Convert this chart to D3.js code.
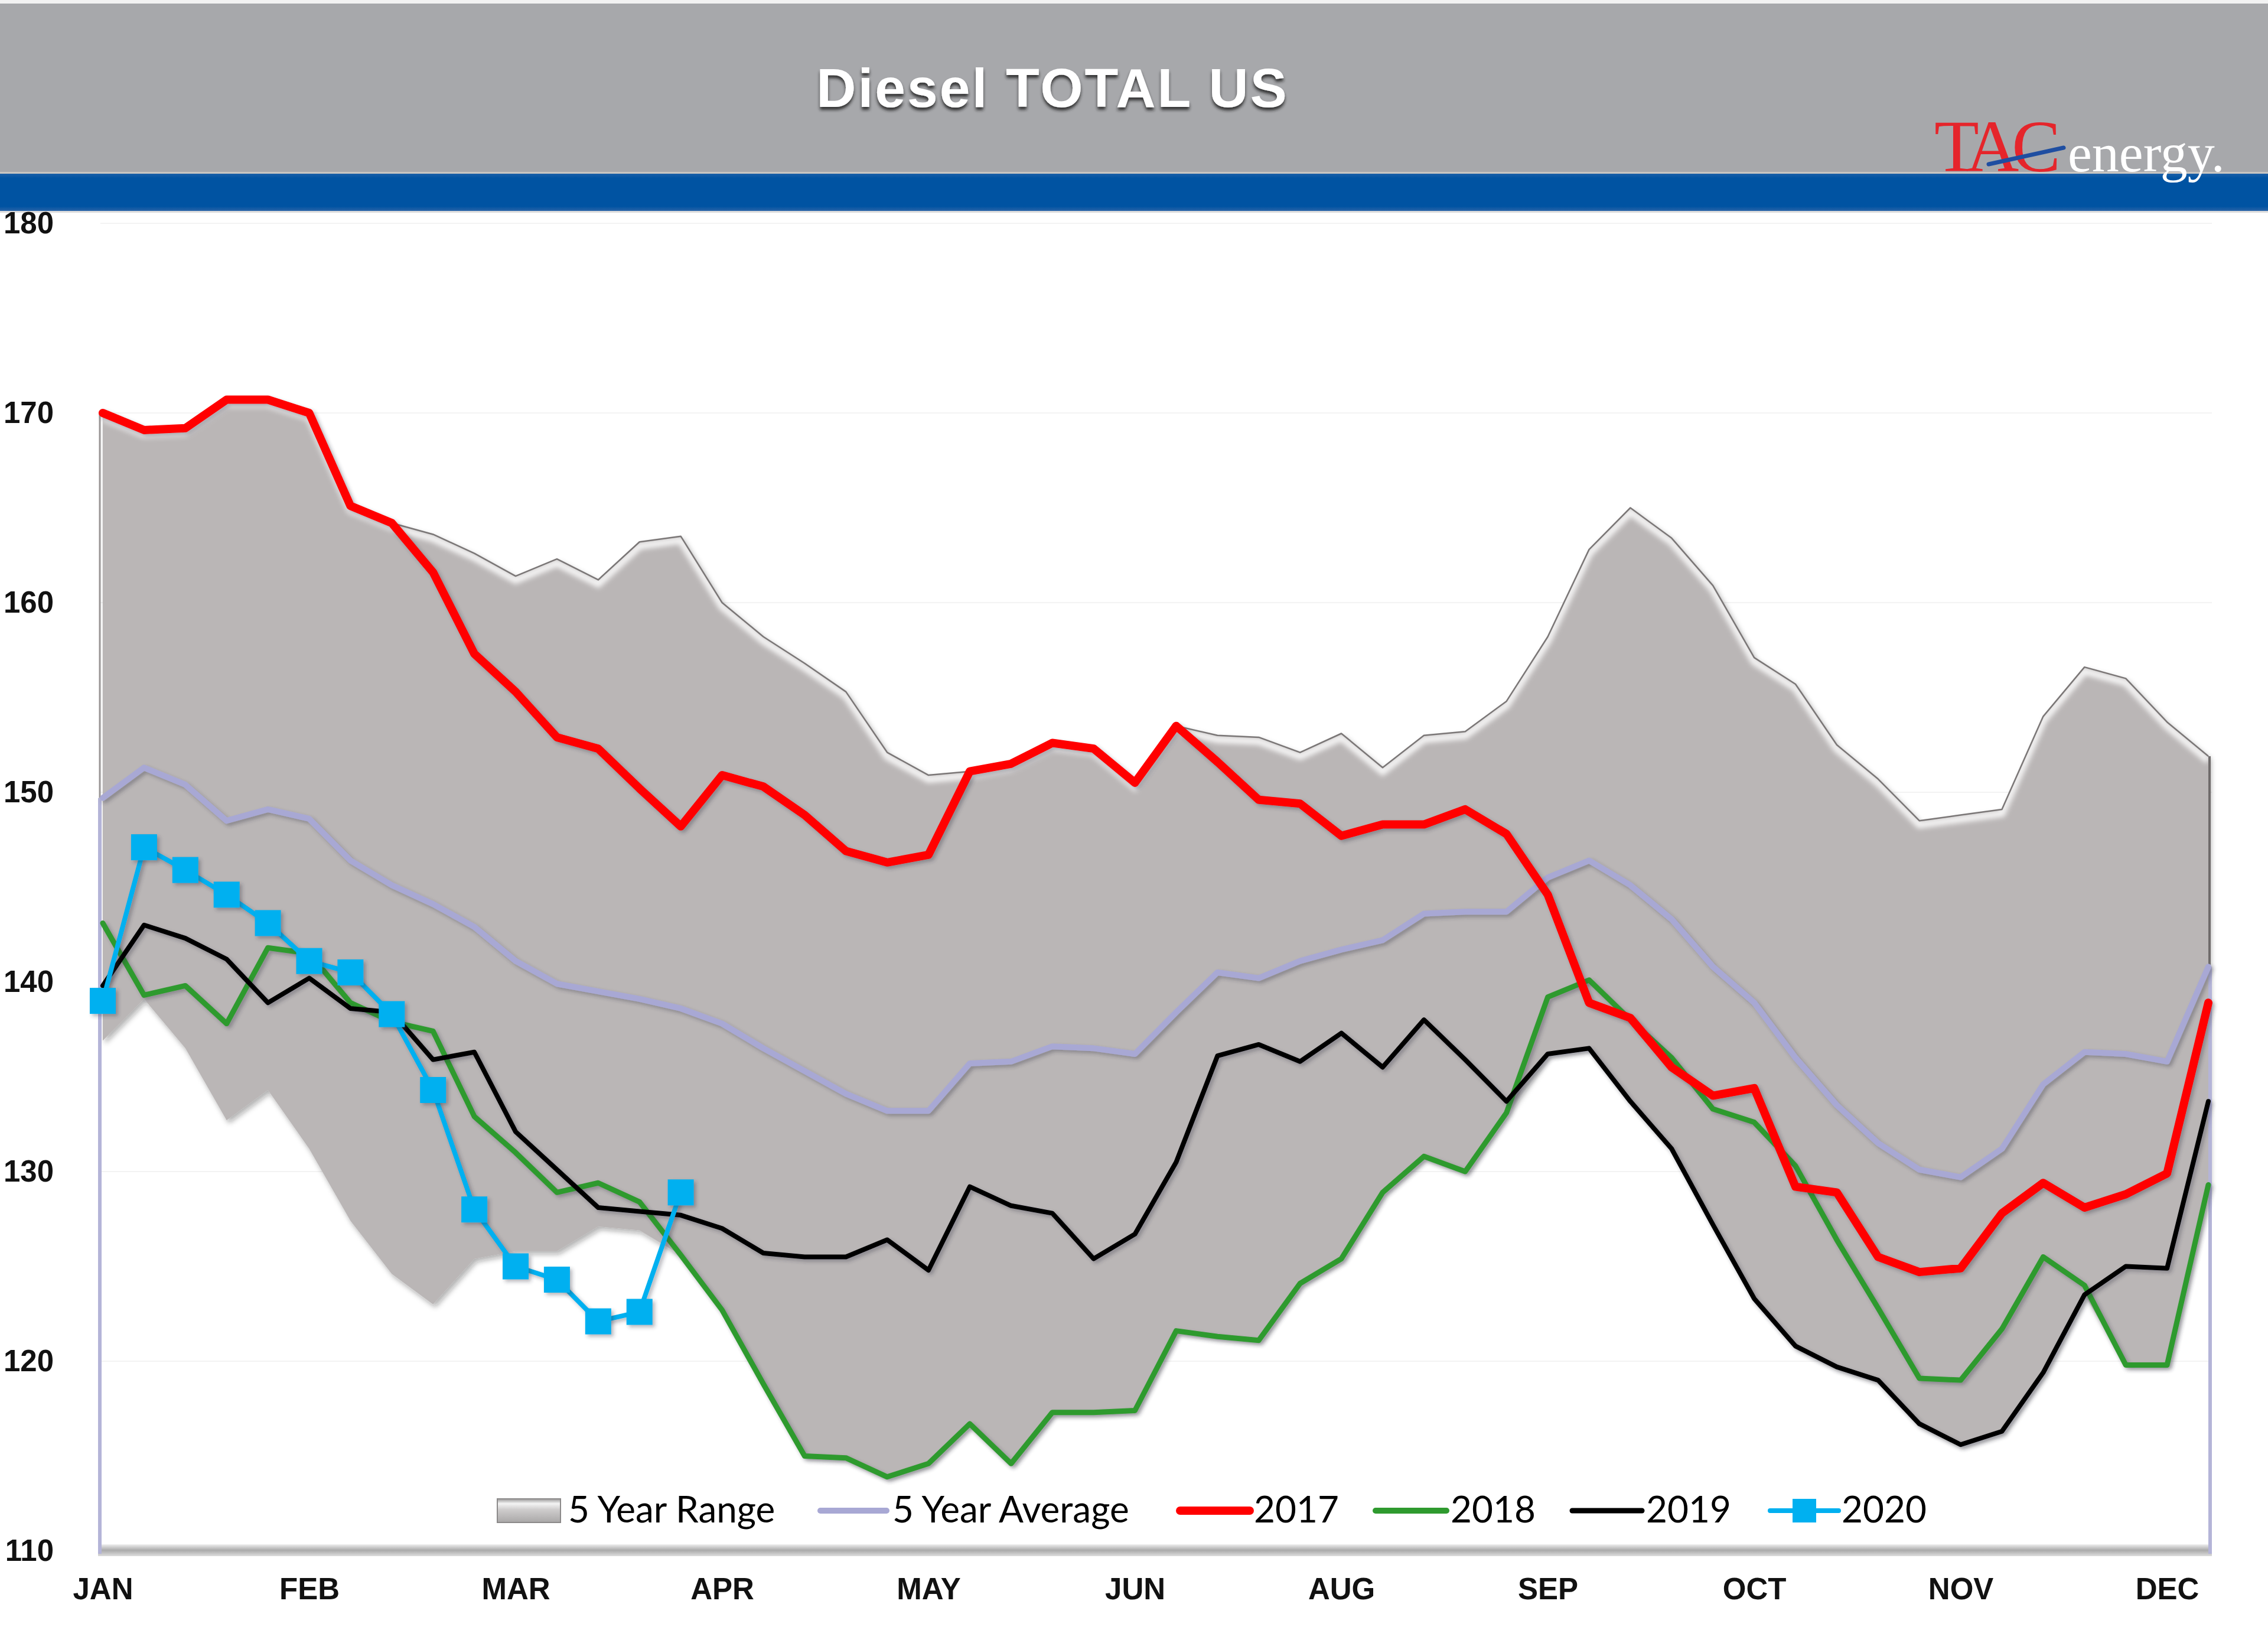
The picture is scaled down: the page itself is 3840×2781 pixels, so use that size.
<!DOCTYPE html>
<html>
<head>
<meta charset="utf-8">
<script src="https://cdn.jsdelivr.net/npm/d3@7"></script>
<style>
html,body{margin:0;padding:0;background:#fff;}
svg{display:block;}
</style>
</head>
<body>
<svg id="chart" width="3840" height="2781"></svg>
<script>
// ---------------- DATA ----------------
const weekIndex = d3.range(52);
const monthTickIdx = [0,5,10,15,20,25,30,35,40,45,50];
const monthLabels = ["JAN","FEB","MAR","APR","MAY","JUN","AUG","SEP","OCT","NOV","DEC"];
const yTicks = [110,120,130,140,150,160,170,180];
const seriesNames = ["5 Year Range","5 Year Average","2017","2018","2019","2020"];

const rangeHigh = [170.0,169.1,169.2,170.7,170.7,170.0,165.1,164.2,163.6,162.6,
  161.4,162.3,161.2,163.2,163.5,160.0,158.2,156.8,155.3,152.1,
  150.9,151.1,151.5,152.6,152.3,150.5,153.5,153.0,152.9,152.1,
  153.1,151.3,153.0,153.2,154.8,158.2,162.8,165.0,163.4,160.9,
  157.1,155.7,152.5,150.7,148.5,148.8,149.1,154.0,156.6,156.0,
  153.7,151.9];
const rangeLow = [136.9,139.1,136.5,132.7,134.3,131.2,127.4,124.6,123.0,125.4,
  125.8,125.8,127.1,126.9,125.6,122.7,118.8,115.0,114.9,113.9,
  114.6,116.7,114.6,117.3,117.3,117.4,121.6,121.3,121.1,124.1,
  125.4,128.9,130.8,130.0,133.1,136.2,136.5,133.7,131.2,127.2,
  123.3,120.8,119.7,119.0,116.7,115.6,116.3,119.4,123.5,119.8,
  119.8,129.3];
const avg5 = [149.7,151.3,150.4,148.5,149.1,148.6,146.4,145.1,144.1,142.9,
  141.1,139.9,139.5,139.1,138.6,137.8,136.5,135.3,134.1,133.2,
  133.2,135.7,135.8,136.6,136.5,136.2,138.4,140.5,140.2,141.1,
  141.7,142.2,143.6,143.7,143.7,145.5,146.4,145.1,143.3,140.8,
  138.9,136.0,133.5,131.5,130.1,129.7,131.2,134.6,136.3,136.2,
  135.8,140.8];
const y2017 = [170.0,169.1,169.2,170.7,170.7,170.0,165.1,164.2,161.6,157.3,
  155.3,152.9,152.3,150.2,148.2,150.9,150.3,148.8,146.9,146.3,
  146.7,151.1,151.5,152.6,152.3,150.5,153.5,151.6,149.6,149.4,
  147.7,148.3,148.3,149.1,147.8,144.6,138.9,138.1,135.5,134.0,
  134.4,129.2,128.9,125.5,124.7,124.9,127.8,129.4,128.1,128.8,
  129.9,138.9];
const y2018 = [143.1,139.3,139.8,137.8,141.8,141.5,138.9,137.9,137.4,132.9,
  131.0,128.9,129.4,128.4,125.6,122.7,118.8,115.0,114.9,113.9,
  114.6,116.7,114.6,117.3,117.3,117.4,121.6,121.3,121.1,124.1,
  125.4,128.9,130.8,130.0,133.1,139.2,140.1,138.0,136.0,133.3,
  132.6,130.3,126.4,122.8,119.1,119.0,121.7,125.5,124.0,119.8,
  119.8,129.3];
const y2019 = [139.8,143.0,142.3,141.2,138.9,140.2,138.6,138.4,135.9,136.3,
  132.1,130.1,128.1,127.9,127.7,127.0,125.7,125.5,125.5,126.4,
  124.8,129.2,128.2,127.8,125.4,126.7,130.5,136.1,136.7,135.8,
  137.3,135.5,138.0,135.9,133.7,136.2,136.5,133.7,131.2,127.2,
  123.3,120.8,119.7,119.0,116.7,115.6,116.3,119.4,123.5,125.0,
  124.9,133.7];
const y2020 = [139.0,147.1,145.9,144.6,143.1,141.1,140.5,138.3,134.3,128.0,
  125.0,124.3,122.1,122.6,128.9];

// ---------------- SETUP ----------------
const svg = d3.select("#chart");
const W = 3840, H = 2781;
const x = d3.scalePoint().domain(weekIndex).range([174, 3739]);
const y = d3.scaleLinear().domain([110, 180]).range([2625, 378]);

const defs = svg.append("defs");
function shadow(id, dx, dy, sd, op, color){
  const f = defs.append("filter").attr("id", id)
    .attr("x","-10%").attr("y","-10%").attr("width","120%").attr("height","130%");
  f.append("feDropShadow").attr("dx",dx).attr("dy",dy).attr("stdDeviation",sd)
    .attr("flood-color",color||"#000").attr("flood-opacity",op);
}
shadow("lineShadow", 4, 4, 3, 0.35, "#334");
shadow("areaShadow", 4, 5, 5, 0.35, "#222");
shadow("titleShadow", 0, 5, 2.5, 0.85, "#222");
defs.append("filter").attr("id","blur6").append("feGaussianBlur").attr("stdDeviation",4);

const floorGrad = defs.append("linearGradient").attr("id","floorGrad")
  .attr("x1",0).attr("y1",0).attr("x2",0).attr("y2",1);
floorGrad.append("stop").attr("offset","0%").attr("stop-color","#eeeeee");
floorGrad.append("stop").attr("offset","50%").attr("stop-color","#aaaaaa");
floorGrad.append("stop").attr("offset","100%").attr("stop-color","#dddddd");

const blueGrad = defs.append("linearGradient").attr("id","blueGrad")
  .attr("x1",0).attr("y1",0).attr("x2",0).attr("y2",1);
blueGrad.append("stop").attr("offset","0%").attr("stop-color","#1a5fa8");
blueGrad.append("stop").attr("offset","12%").attr("stop-color","#0053a2");
blueGrad.append("stop").attr("offset","88%").attr("stop-color","#0053a2");
blueGrad.append("stop").attr("offset","100%").attr("stop-color","#2a64a8");

const legGrad = defs.append("linearGradient").attr("id","legGrad")
  .attr("x1",0).attr("y1",0).attr("x2",0).attr("y2",1);
legGrad.append("stop").attr("offset","0%").attr("stop-color","#9a9898");
legGrad.append("stop").attr("offset","20%").attr("stop-color","#f4f4f4");
legGrad.append("stop").attr("offset","45%").attr("stop-color","#cfcdcd");
legGrad.append("stop").attr("offset","100%").attr("stop-color","#a9a7a7");

// ---------------- HEADER ----------------
svg.append("rect").attr("x",0).attr("y",0).attr("width",W).attr("height",6).attr("fill","#f2f2f2");
svg.append("rect").attr("x",0).attr("y",6).attr("width",W).attr("height",285).attr("fill","#a7a8ab");
svg.append("rect").attr("x",0).attr("y",291).attr("width",W).attr("height",3).attr("fill","#c9c6c2");
svg.append("rect").attr("x",0).attr("y",294).attr("width",W).attr("height",63).attr("fill","url(#blueGrad)");
svg.append("rect").attr("x",0).attr("y",357).attr("width",W).attr("height",3).attr("fill","#dcdcdc");

svg.append("text").attr("x",1782).attr("y",181)
  .attr("text-anchor","middle")
  .attr("font-family","'Liberation Sans', Arial, sans-serif")
  .attr("font-weight","bold").attr("font-size",93)
  .attr("letter-spacing",3)
  .attr("fill","#ffffff").attr("filter","url(#titleShadow)")
  .text("Diesel  TOTAL  US");

// Logo
const logo = svg.append("g");
logo.append("text").attr("x",3275).attr("y",290)
  .attr("font-family","'Liberation Serif', 'Times New Roman', serif")
  .attr("font-size",124).attr("letter-spacing",-12)
  .attr("fill","#e5252b").text("TAC");
logo.append("line").attr("x1",3367).attr("y1",278).attr("x2",3494).attr("y2",250)
  .attr("stroke","#1f4ea1").attr("stroke-width",7).attr("stroke-linecap","round");
logo.append("text").attr("x",3501).attr("y",290)
  .attr("font-family","'Liberation Serif', 'Times New Roman', serif")
  .attr("font-size",92)
  .attr("fill","#ffffff").text("energy.");

// ---------------- GRID ----------------
svg.append("g").selectAll("line").data(yTicks.slice(1)).join("line")
  .attr("x1",170).attr("x2",3745)
  .attr("y1",d=>y(d)).attr("y2",d=>y(d))
  .attr("stroke","#f3f3f3").attr("stroke-width",2);

// ---------------- RANGE AREA ----------------
const areaGen = d3.area().x((d,i)=>x(i)).y0((d,i)=>y(rangeLow[i])).y1(d=>y(d));
const upperLine = d3.line().x((d,i)=>x(i)).y(d=>y(d));

defs.append("clipPath").attr("id","areaClip")
  .append("path").attr("d", areaGen(rangeHigh));

svg.append("path").attr("d", areaGen(rangeHigh))
  .attr("fill","#bab6b6").attr("filter","url(#areaShadow)");
svg.append("g").attr("clip-path","url(#areaClip)")
  .append("path").attr("d", upperLine(rangeHigh))
  .attr("fill","none").attr("stroke","#ffffff").attr("stroke-width",12)
  .attr("stroke-opacity",0.85)
  .attr("transform","translate(0,7)").attr("filter","url(#blur6)");
svg.append("path").attr("d", upperLine(rangeHigh))
  .attr("fill","none").attr("stroke","#7a7676").attr("stroke-width",2.5)
  .attr("stroke-linejoin","round");

// Vertical edges
svg.append("line").attr("x1",x(51)+2).attr("x2",x(51)+2)
  .attr("y1",y(rangeHigh[51])).attr("y2",y(avg5[51]))
  .attr("stroke","#6f6b6b").attr("stroke-width",4);
svg.append("line").attr("x1",x(0)-5).attr("x2",x(0)-5)
  .attr("y1",y(rangeHigh[0])).attr("y2",y(avg5[0]))
  .attr("stroke","#9a9696").attr("stroke-width",3);

// floor
svg.append("rect").attr("x",166).attr("y",2614).attr("width",3745-166).attr("height",20)
  .attr("fill","url(#floorGrad)");

// avg drop lines at edges
svg.append("line").attr("x1",x(0)-5).attr("x2",x(0)-5)
  .attr("y1",y(avg5[0])).attr("y2",2630)
  .attr("stroke","#b4b4d8").attr("stroke-width",6);
svg.append("line").attr("x1",x(51)+3).attr("x2",x(51)+3)
  .attr("y1",y(avg5[51])).attr("y2",2630)
  .attr("stroke","#b4b4d8").attr("stroke-width",6);

// ---------------- LINES ----------------
const lineGen = d3.line().x((d,i)=>x(i)).y(d=>y(d));
function drawLine(data, color, width){
  svg.append("path").attr("d", lineGen(data))
    .attr("fill","none").attr("stroke",color).attr("stroke-width",width)
    .attr("stroke-linejoin","round").attr("stroke-linecap","round")
    .attr("filter","url(#lineShadow)");
}
drawLine(avg5, "#a8a8d4", 10);
drawLine(y2018, "#2f9a2f", 9);
drawLine(y2019, "#000000", 8);
drawLine(y2017, "#ff0000", 14);
drawLine(y2020, "#00b0f0", 8);
svg.append("g").attr("filter","url(#lineShadow)")
  .selectAll("rect").data(y2020).join("rect")
  .attr("x",(d,i)=>x(i)-22).attr("y",d=>y(d)-22)
  .attr("width",44).attr("height",44).attr("fill","#00b0f0");

// ---------------- AXES ----------------
const yAxis = svg.append("g").attr("transform","translate(100,0)")
  .call(d3.axisLeft(y).tickValues(yTicks).tickSize(0).tickPadding(9).tickFormat(d3.format("d")));
yAxis.select(".domain").remove();
yAxis.selectAll("text")
  .attr("font-family","'Liberation Sans', Arial, sans-serif")
  .attr("font-weight","bold").attr("font-size",51).attr("fill","#111");

const xAxis = svg.append("g").attr("transform","translate(0,2625)")
  .call(d3.axisBottom(x).tickValues(monthTickIdx).tickSize(0).tickPadding(46)
    .tickFormat((d,i)=>monthLabels[i]));
xAxis.select(".domain").remove();
xAxis.selectAll("text")
  .attr("font-family","'Liberation Sans', Arial, sans-serif")
  .attr("font-weight","bold").attr("font-size",51).attr("fill","#111");

// ---------------- LEGEND ----------------
const legFont = "Lato, 'Open Sans', sans-serif";
const legBase = 2577, legMid = 2557;
const leg = svg.append("g");
leg.append("rect").attr("x",842).attr("y",2537).attr("width",107).attr("height",40)
  .attr("fill","url(#legGrad)").attr("stroke","#8c8a8a").attr("stroke-width",2);
const legendItems = [
  {name: seriesNames[0], tx: 962},
  {name: seriesNames[1], tx: 1511, color:"#a8a8d4", w:10, x1:1389, x2:1501},
  {name: seriesNames[2], tx: 2123, color:"#ff0000", w:14, x1:1998, x2:2116},
  {name: seriesNames[3], tx: 2456, color:"#2f9a2f", w:10, x1:2329, x2:2449},
  {name: seriesNames[4], tx: 2787, color:"#000000", w:9, x1:2662, x2:2780},
  {name: seriesNames[5], tx: 3118, color:"#00b0f0", w:8, x1:2997, x2:3113, marker:true}
];
legendItems.forEach(it=>{
  if (it.color){
    leg.append("line").attr("x1",it.x1).attr("x2",it.x2).attr("y1",legMid).attr("y2",legMid)
      .attr("stroke",it.color).attr("stroke-width",it.w).attr("stroke-linecap","round");
  }
  if (it.marker){
    const cx = (it.x1+it.x2)/2;
    leg.append("rect").attr("x",cx-20).attr("y",legMid-20).attr("width",40).attr("height",40)
      .attr("fill",it.color);
  }
  leg.append("text").attr("x",it.tx).attr("y",legBase)
    .attr("font-family",legFont).attr("font-size",62).attr("fill","#000")
    .text(it.name);
});
</script>
</body>
</html>
